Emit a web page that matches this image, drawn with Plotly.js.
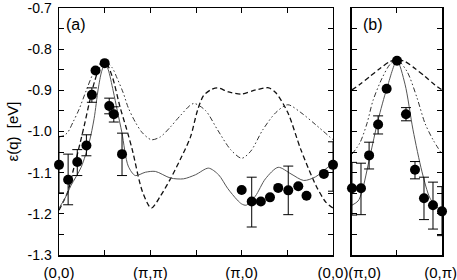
<!DOCTYPE html>
<html><head><meta charset="utf-8">
<script src="https://cdn.plot.ly/plotly-3.0.1.min.js"></script>
<style>html,body{margin:0;padding:0;background:#fff;}#chart{width:457px;height:280px;}</style>
</head><body><div id="chart"></div>
<script>
// Path coordinate: 0=(0,0), 1=(pi,pi), 2=(pi,0), 3=(0,0) for panel (a); 0=(pi,0), 1=(0,pi) for panel (b)
const aTickVals = [0, 1, 2, 3];
const aTickText = ['(0,0)', '(\u03c0,\u03c0)', '(\u03c0,0)', '(0,0)'];
const bTickText = ['(\u03c0,0)', '(0,\u03c0)'];
const yTickVals = [-1.3, -1.2, -1.1, -1.0, -0.9, -0.8, -0.7];
const yTickText = ['-1.3', '-1.2', '-1.1', '-1.0', '-0.9', '-0.8', '-0.7'];

// Panel (a) theory curves
const aSolidX = [0, 0.066, 0.132, 0.242, 0.33, 0.385, 0.429, 0.467, 0.505, 0.538, 0.593, 0.637, 0.689, 0.758, 0.835, 0.945, 1.055, 1.22, 1.363, 1.495, 1.637, 1.747, 1.846, 1.95, 2.0, 2.05, 2.15, 2.26, 2.4, 2.54, 2.68, 2.81, 2.92, 3.0];
const aSolidY = [-1.186, -1.162, -1.131, -1.087, -1.027, -0.968, -0.897, -0.854, -0.835, -0.849, -0.901, -0.948, -1.003, -1.084, -1.107, -1.099, -1.097, -1.113, -1.115, -1.105, -1.089, -1.105, -1.138, -1.166, -1.176, -1.179, -1.157, -1.115, -1.087, -1.103, -1.119, -1.110, -1.091, -1.078];
const aDashX = [0, 0.055, 0.099, 0.154, 0.209, 0.275, 0.33, 0.385, 0.44, 0.505, 0.582, 0.67, 0.736, 0.802, 0.912, 1.011, 1.11, 1.22, 1.33, 1.44, 1.516, 1.582, 1.659, 1.736, 1.857, 2.0, 2.154, 2.297, 2.374, 2.505, 2.648, 2.813, 2.923, 3.0];
const aDashY = [-1.191, -1.167, -1.145, -1.096, -1.048, -0.987, -0.932, -0.882, -0.847, -0.830, -0.866, -0.942, -0.991, -1.044, -1.145, -1.186, -1.157, -1.115, -1.067, -1.013, -0.949, -0.913, -0.899, -0.894, -0.904, -0.909, -0.899, -0.894, -0.906, -0.954, -1.044, -1.131, -1.172, -1.186];
const aDotX = [0, 0.055, 0.099, 0.154, 0.22, 0.297, 0.374, 0.44, 0.505, 0.582, 0.637, 0.703, 0.758, 0.835, 0.912, 1.011, 1.11, 1.22, 1.33, 1.473, 1.604, 1.736, 1.879, 2.0, 2.099, 2.231, 2.374, 2.505, 2.648, 2.813, 3.0];
const aDotY = [-1.013, -1.010, -1.001, -0.977, -0.946, -0.901, -0.859, -0.837, -0.830, -0.845, -0.871, -0.906, -0.942, -0.977, -1.003, -1.020, -1.013, -0.989, -0.961, -0.932, -0.949, -0.996, -1.044, -1.065, -1.048, -0.996, -0.954, -0.935, -0.954, -0.984, -1.020];

// Panel (a) measured points
const aPtX = [0, 0.10, 0.20, 0.30, 0.36, 0.40, 0.50, 0.55, 0.60, 0.69, 2.00, 2.11, 2.21, 2.31, 2.40, 2.51, 2.62, 2.71, 2.90, 3.00];
const aPtY = [-1.081, -1.117, -1.074, -1.034, -0.911, -0.852, -0.834, -0.938, -0.958, -1.055, -1.142, -1.170, -1.170, -1.160, -1.137, -1.143, -1.133, -1.156, -1.103, -1.081];
const aErrPlus  = [0.069, 0.062, 0.030, 0.026, 0.017, NaN, NaN, 0.019, 0.018, 0.051, NaN, 0.059, NaN, NaN, NaN, 0.059, NaN, NaN, NaN, 0.056];
const aErrMinus = [0.068, 0.061, 0.033, 0.025, 0.018, NaN, NaN, 0.019, 0.019, 0.052, NaN, 0.062, NaN, NaN, NaN, 0.059, NaN, NaN, NaN, 0.064];

// Panel (b) theory curves
const bSolidX = [0, 0.067, 0.111, 0.2, 0.289, 0.389, 0.5, 0.589, 0.678, 0.778, 0.867, 0.956, 1.0];
const bSolidY = [-1.179, -1.169, -1.146, -1.060, -0.973, -0.894, -0.828, -0.885, -0.996, -1.098, -1.162, -1.186, -1.186];
const bDashX = [0, 0.089, 0.2, 0.311, 0.422, 0.5, 0.589, 0.7, 0.811, 0.922, 1.0];
const bDashY = [-0.899, -0.885, -0.866, -0.847, -0.830, -0.826, -0.830, -0.847, -0.866, -0.887, -0.899];
const bDotX = [0, 0.089, 0.167, 0.233, 0.333, 0.422, 0.5, 0.611, 0.722, 0.811, 0.9, 1.0];
const bDotY = [-1.055, -1.027, -0.980, -0.925, -0.871, -0.837, -0.826, -0.854, -0.918, -0.980, -1.020, -1.055];

// Panel (b) measured points
const bPtX = [0.0, 0.10, 0.19, 0.29, 0.385, 0.50, 0.60, 0.70, 0.80, 0.90, 1.0];
const bPtY = [-1.138, -1.138, -1.058, -0.983, -0.896, -0.828, -0.958, -1.093, -1.162, -1.179, -1.194];
const bErrPlus  = [0.063, 0.061, 0.032, 0.021, NaN, NaN, 0.016, 0.020, 0.051, 0.056, 0.060];
const bErrMinus = [0.065, 0.064, 0.033, 0.023, NaN, NaN, 0.016, 0.022, 0.052, 0.058, 0.059];

const FONT = '"Liberation Sans", Arial, sans-serif';
const solidLine = {color: '#555', width: 1};
const dashLine = {color: '#111', width: 1.3, dash: '5px,3px'};
const dotLine = {color: '#333', width: 1, dash: '5px,2.5px,1.5px,2.5px,1.5px,2.5px'};
function errs(p, m) { return {type: 'data', symmetric: false, array: p, arrayminus: m, color: '#000', thickness: 1, width: 5}; }
function line(x, y, style, ax) { return {x: x, y: y, mode: 'lines', line: Object.assign({shape: 'spline', smoothing: 0.8}, style), xaxis: ax[0], yaxis: ax[1], hoverinfo: 'skip'}; }
function pts(x, y, p, m, ax) { return {x: x, y: y, mode: 'markers', marker: {color: '#000', size: 10}, error_y: errs(p, m), xaxis: ax[0], yaxis: ax[1], cliponaxis: false}; }

const A = ['x', 'y'], B = ['x2', 'y2'];
const data = [
  line(aDotX, aDotY, dotLine, A), line(aDashX, aDashY, dashLine, A), line(aSolidX, aSolidY, solidLine, A),
  pts(aPtX, aPtY, aErrPlus, aErrMinus, A),
  line(bDotX, bDotY, dotLine, B), line(bDashX, bDashY, dashLine, B), line(bSolidX, bSolidY, solidLine, B),
  pts(bPtX, bPtY, bErrPlus, bErrMinus, B)
];

const axisCommon = {showline: true, linecolor: '#000', linewidth: 1.5, mirror: 'allticks', showgrid: false, zeroline: false,
  ticks: 'inside', ticklen: 5, tickwidth: 1, tickcolor: '#000', ticklabeloverflow: 'allow',
  tickfont: {family: FONT, size: 15, color: '#000'}};
const yMinor = {tickmode: 'linear', tick0: -1.3, dtick: 0.05, ticks: 'inside', ticklen: 5, tickwidth: 1, tickcolor: '#000', showgrid: false};
const xMinor = {tickmode: 'linear', tick0: 0, dtick: 0.5, ticks: 'inside', ticklen: 5, tickwidth: 1, tickcolor: '#000', showgrid: false};

const layout = {
  width: 457, height: 280, margin: {l: 59, r: 15, t: 8, b: 25}, showlegend: false,
  paper_bgcolor: '#fff', plot_bgcolor: '#fff', font: {family: FONT, size: 15, color: '#000'},
  xaxis: Object.assign({}, axisCommon, {domain: [0, 0.7154], range: [0, 3], tickmode: 'array', tickvals: aTickVals, ticktext: aTickText,
    ticklabelstandoff: 3, minor: xMinor}),
  yaxis: Object.assign({}, axisCommon, {domain: [0, 1], range: [-1.3, -0.7], tickmode: 'array', tickvals: yTickVals, ticktext: yTickText,
    ticklabelstandoff: 3, minor: yMinor, tickfont: {family: FONT, size: 14, color: '#000'},
    title: {text: '\u03b5(q)\u00a0 [eV]', font: {family: FONT, size: 15, color: '#000'}, standoff: 5}}),
  xaxis2: Object.assign({}, axisCommon, {domain: [0.765, 1], range: [0, 1], anchor: 'y2', tickmode: 'array', tickvals: [0.14, 0.985], ticktext: bTickText, ticklen: 0,
    ticklabelstandoff: 3, minor: xMinor}),
  yaxis2: Object.assign({}, axisCommon, {domain: [0, 1], range: [-1.3, -0.7], anchor: 'x2', tickmode: 'array', tickvals: yTickVals, showticklabels: false, minor: yMinor}),
  annotations: [
    {text: '(a)', xref: 'x domain', yref: 'y domain', x: 0.02, y: 0.975, xanchor: 'left', yanchor: 'top', showarrow: false, font: {family: FONT, size: 16, color: '#000'}},
    {text: '(b)', xref: 'x2 domain', yref: 'y2 domain', x: 0.1, y: 0.975, xanchor: 'left', yanchor: 'top', showarrow: false, font: {family: FONT, size: 16, color: '#000'}}
  ]
};
Plotly.newPlot('chart', data, layout, {staticPlot: true, displayModeBar: false});
</script></body></html>
